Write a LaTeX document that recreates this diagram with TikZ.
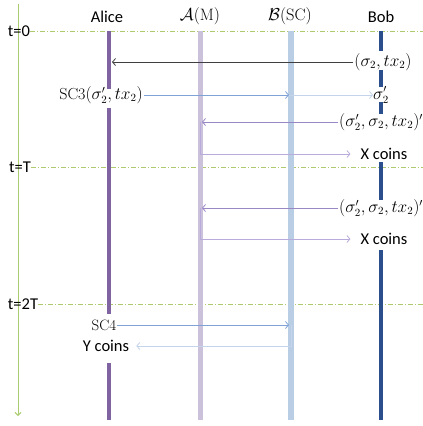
\documentclass[tikz,border=0pt]{standalone}
\usepackage{fontspec}
\setsansfont{Carlito}
\usetikzlibrary{arrows.meta}
\definecolor{alicec}{HTML}{8064A2}
\definecolor{amc}{HTML}{CCC1DA}
\definecolor{bscc}{HTML}{B9CDE5}
\definecolor{bobc}{HTML}{2B4F8C}
\definecolor{axisc}{HTML}{A9CC6E}
\definecolor{dashc}{HTML}{AFC96F}
\definecolor{bluemsg}{HTML}{7FA3D6}
\definecolor{bluelite}{HTML}{C3D4EB}
\definecolor{purpmsg}{HTML}{9A88C6}
\definecolor{purplite}{HTML}{B9ACDC}
\definecolor{blackmsg}{HTML}{404040}
\begin{document}
\begin{tikzpicture}[x=1pt,y=-1pt,
  lbl/.style={font=\sffamily\fontsize{16.5}{19}\selectfont, inner sep=1pt},
  tlbl/.style={font=\sffamily\fontsize{16.5}{19}\selectfont, inner sep=0pt},
  mth/.style={font=\fontsize{16}{19}\selectfont, inner sep=1pt},
  hdr/.style={font=\fontsize{16.5}{19}\selectfont, inner sep=1pt},
  tline/.style={draw=dashc, line width=1pt, dash pattern=on 5pt off 2pt on 1pt off 2pt},
  timeaxis/.style={draw=axisc, line width=0.9pt, -{Straight Barb[length=3pt,width=6pt]}},
  lifeA/.style={draw=alicec, line width=4pt},
  lifeM/.style={draw=amc, line width=5pt},
  lifeS/.style={draw=bscc, line width=5.5pt},
  lifeB/.style={draw=bobc, line width=4pt},
  msg/.style={line width=0.8pt, -{Straight Barb[length=3pt,width=7pt]}}
]
\useasboundingbox (0,0) rectangle (423,426);
% headers
\node[lbl] (alice) at (107,17) {Alice};
\node[hdr] (am) at (200,16) {$\mathcal{A}(\mathrm{M})$};
\node[hdr] (bsc) at (290,16) {$\mathcal{B}(\mathrm{SC})$};
\node[lbl] (bob) at (381,17) {Bob};
% time axis
\coordinate (axtop) at (18,4);
\coordinate (axbot) at (18,416);
\draw[timeaxis] (axtop) -- (axbot);
\node[tlbl] (t0) at (19,31) {t=0};
\node[tlbl] (tT) at (20,167) {t=T};
\node[tlbl] (t2T) at (23,304) {t=2T};
\coordinate (e0) at (423,31);
\coordinate (eT) at (423,167);
\coordinate (e2T) at (423,304);
\draw[tline] (t0.east) -- (e0);
\draw[tline] (tT.east) -- (eT);
\draw[tline] (t2T.east) -- (e2T);
% lifelines
\draw[lifeM] (200,31) -- (200,420);
\draw[lifeS] (291,31) -- (291,420);
\draw[lifeA] (109,31) -- (109,89);
\draw[lifeA] (109,108) -- (109,314);
\draw[lifeA] (109,363) -- (109,420);
\draw[lifeB] (381,31) -- (381,51);
\draw[lifeB] (381,70) -- (381,87);
\draw[lifeB] (381,102) -- (381,114);
\draw[lifeB] (381,162) -- (381,200);
\draw[lifeB] (381,250) -- (381,420);
% message 1
\node[mth] (m1) at (383,62) {$(\sigma_2,tx_2)$};
\coordinate (al1) at (112,62);
\draw[msg, draw=blackmsg] (m1.west) -- (al1);
% message 2
\node[mth] (sc3) at (101,95) {$\mathrm{SC3}(\sigma_2',tx_2)$};
\coordinate (b1) at (289,95);
\node[mth, inner sep=0pt] (m2) at (381,95) {$\sigma_2'$};
\draw[msg, draw=bluemsg] (sc3.east) -- (b1);
\draw[msg, draw=bluelite] (b1) -- (m2.west);
% message 3
\node[mth, anchor=west] (m3) at (338,122) {$(\sigma_2',\sigma_2,tx_2)'$};
\coordinate (a1) at (202,122);
\coordinate (a1s) at (200,122);
\node[lbl] (x1) at (384,154) {X coins};
\draw[msg, draw=purpmsg] (m3.west) -- (a1);
\draw[msg, draw=purplite, shorten >=9pt] (a1s) |- (x1.west);
% message 4
\node[mth, anchor=west] (m4) at (338,208) {$(\sigma_2',\sigma_2,tx_2)'$};
\coordinate (a2) at (202,208);
\coordinate (a2s) at (200,208);
\node[lbl] (x2) at (384,239) {X coins};
\draw[msg, draw=purpmsg] (m4.west) -- (a2);
\draw[msg, draw=purplite, shorten >=9pt] (a2s) |- (x2.west);
% message 5
\node[mth, font=\fontsize{15}{18}\selectfont] (sc4) at (104,325) {$\mathrm{SC4}$};
\coordinate (b2) at (289,325);
\coordinate (b2s) at (291,325);
\node[lbl] (y1) at (106,346) {Y coins};
\draw[msg, draw=bluemsg] (sc4.east) -- (b2);
\draw[msg, draw=bluelite, shorten >=6pt] (b2s) |- (y1.east);
\end{tikzpicture}
\end{document}
